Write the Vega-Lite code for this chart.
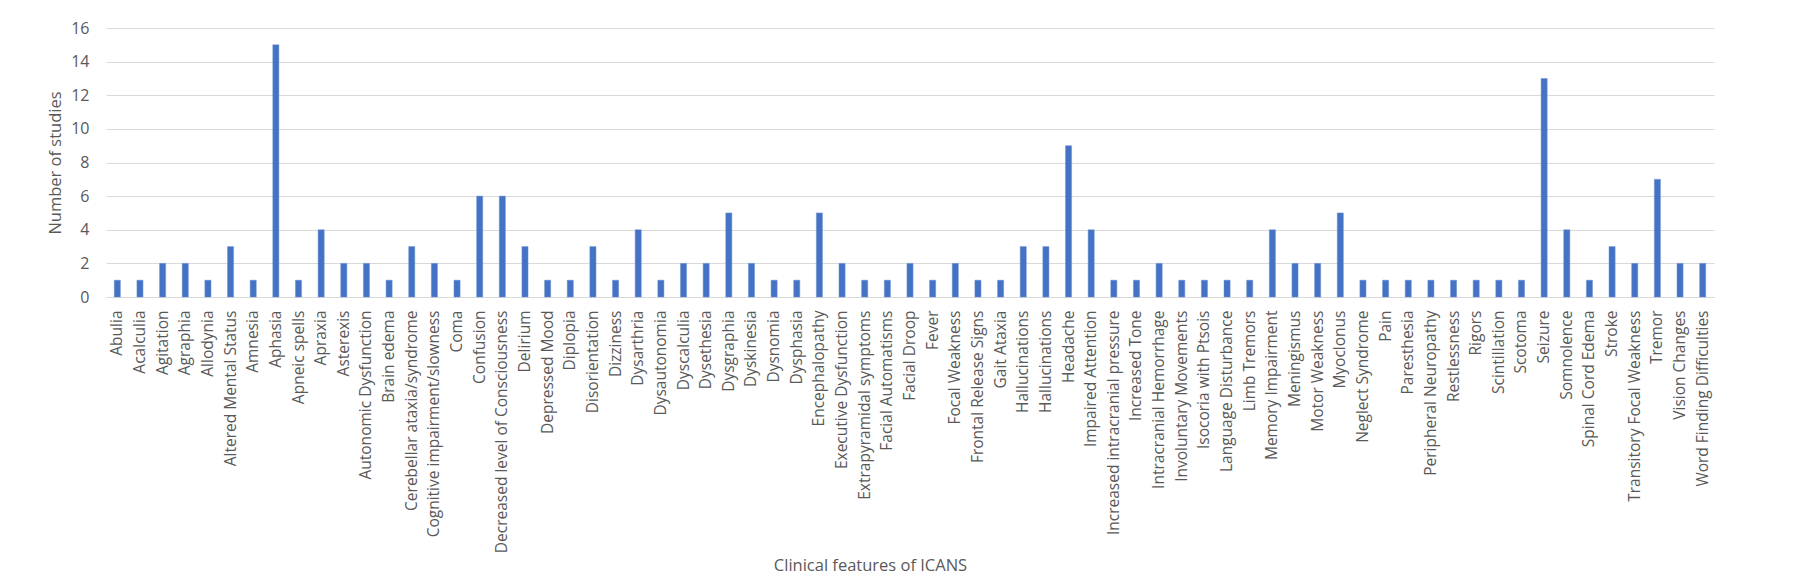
{
  "$schema": "https://vega.github.io/schema/vega-lite/v6.json",
  "width": 1608,
  "height": 269,
  "autosize": {"type": "none"},
  "padding": {"left": 106, "top": 28, "right": 86, "bottom": 286},
  "background": "white",
  "config": {
    "view": {"stroke": null},
    "font": "Open Sans",
    "axis": {"labelFont": "Open Sans", "titleFont": "Open Sans", "labelColor": "#595959", "titleColor": "#595959", "titleFontWeight": "normal"}
  },
  "data": {
    "values": [
      {"feature": "Abulia|1", "studies": 1},
      {"feature": "Acalculia|1", "studies": 1},
      {"feature": "Agitation|1", "studies": 2},
      {"feature": "Agraphia|1", "studies": 2},
      {"feature": "Allodynia|1", "studies": 1},
      {"feature": "Altered Mental Status|1", "studies": 3},
      {"feature": "Amnesia|1", "studies": 1},
      {"feature": "Aphasia|1", "studies": 15},
      {"feature": "Apneic spells|1", "studies": 1},
      {"feature": "Apraxia|1", "studies": 4},
      {"feature": "Asterexis|1", "studies": 2},
      {"feature": "Autonomic Dysfunction|1", "studies": 2},
      {"feature": "Brain edema|1", "studies": 1},
      {"feature": "Cerebellar ataxia/syndrome|1", "studies": 3},
      {"feature": "Cognitive impairment/slowness|1", "studies": 2},
      {"feature": "Coma|1", "studies": 1},
      {"feature": "Confusion|1", "studies": 6},
      {"feature": "Decreased level of Consciousness|1", "studies": 6},
      {"feature": "Delirium|1", "studies": 3},
      {"feature": "Depressed Mood|1", "studies": 1},
      {"feature": "Diplopia|1", "studies": 1},
      {"feature": "Disorientation|1", "studies": 3},
      {"feature": "Dizziness|1", "studies": 1},
      {"feature": "Dysarthria|1", "studies": 4},
      {"feature": "Dysautonomia|1", "studies": 1},
      {"feature": "Dyscalculia|1", "studies": 2},
      {"feature": "Dysethesia|1", "studies": 2},
      {"feature": "Dysgraphia|1", "studies": 5},
      {"feature": "Dyskinesia|1", "studies": 2},
      {"feature": "Dysnomia|1", "studies": 1},
      {"feature": "Dysphasia|1", "studies": 1},
      {"feature": "Encephalopathy|1", "studies": 5},
      {"feature": "Executive Dysfunction|1", "studies": 2},
      {"feature": "Extrapyramidal symptoms|1", "studies": 1},
      {"feature": "Facial Automatisms|1", "studies": 1},
      {"feature": "Facial Droop|1", "studies": 2},
      {"feature": "Fever|1", "studies": 1},
      {"feature": "Focal Weakness|1", "studies": 2},
      {"feature": "Frontal Release Signs|1", "studies": 1},
      {"feature": "Gait Ataxia|1", "studies": 1},
      {"feature": "Hallucinations|1", "studies": 3},
      {"feature": "Hallucinations|2", "studies": 3},
      {"feature": "Headache|1", "studies": 9},
      {"feature": "Impaired Attention|1", "studies": 4},
      {"feature": "Increased intracranial pressure|1", "studies": 1},
      {"feature": "Increased Tone|1", "studies": 1},
      {"feature": "Intracranial Hemorrhage|1", "studies": 2},
      {"feature": "Involuntary Movements|1", "studies": 1},
      {"feature": "Isocoria with Ptsois|1", "studies": 1},
      {"feature": "Language Disturbance|1", "studies": 1},
      {"feature": "Limb Tremors|1", "studies": 1},
      {"feature": "Memory Impairment|1", "studies": 4},
      {"feature": "Meningismus|1", "studies": 2},
      {"feature": "Motor Weakness|1", "studies": 2},
      {"feature": "Myoclonus|1", "studies": 5},
      {"feature": "Neglect Syndrome|1", "studies": 1},
      {"feature": "Pain|1", "studies": 1},
      {"feature": "Paresthesia|1", "studies": 1},
      {"feature": "Peripheral Neuropathy|1", "studies": 1},
      {"feature": "Restlessness|1", "studies": 1},
      {"feature": "Rigors|1", "studies": 1},
      {"feature": "Scintillation|1", "studies": 1},
      {"feature": "Scotoma|1", "studies": 1},
      {"feature": "Seizure|1", "studies": 13},
      {"feature": "Somnolence|1", "studies": 4},
      {"feature": "Spinal Cord Edema|1", "studies": 1},
      {"feature": "Stroke|1", "studies": 3},
      {"feature": "Transitory Focal Weakness|1", "studies": 2},
      {"feature": "Tremor|1", "studies": 7},
      {"feature": "Vision Changes|1", "studies": 2},
      {"feature": "Word Finding Difficulties|1", "studies": 2}
    ]
  },
  "mark": {"type": "bar", "color": "#4472C4", "stroke": "#6f93d4", "strokeWidth": 0.5},
  "encoding": {
    "x": {
      "field": "feature",
      "type": "nominal",
      "sort": null,
      "scale": {"paddingInner": 0.73, "paddingOuter": 0.365},
      "axis": {
        "title": "Clinical features of ICANS",
        "labelExpr": "split(datum.value, '|')[0]",
        "labelAngle": -90,
        "labelAlign": "right",
        "labelBaseline": "middle",
        "labelFontSize": 15.5,
        "labelPadding": 13,
        "labelOverlap": false,
        "labelLimit": 0,
        "ticks": false,
        "domainColor": "#d9d9d9",
        "domainWidth": 1,
        "titleFontSize": 16.5,
        "titleX": 764,
        "titleY": 268,
        "titleAlign": "center",
        "titleBaseline": "middle",
        "titleAnchor": null
      }
    },
    "y": {
      "field": "studies",
      "type": "quantitative",
      "scale": {"domain": [0, 16], "nice": false},
      "axis": {
        "title": "Number of studies",
        "values": [0, 2, 4, 6, 8, 10, 12, 14, 16],
        "domain": false,
        "ticks": false,
        "gridColor": "#d9d9d9",
        "gridWidth": 1,
        "labelFontSize": 16,
        "labelPadding": 17,
        "titleFontSize": 16.5,
        "titleAngle": -90,
        "titleX": -51,
        "titleY": 134.5,
        "titleAlign": "center",
        "titleBaseline": "middle",
        "titleAnchor": null
      }
    }
  }
}
